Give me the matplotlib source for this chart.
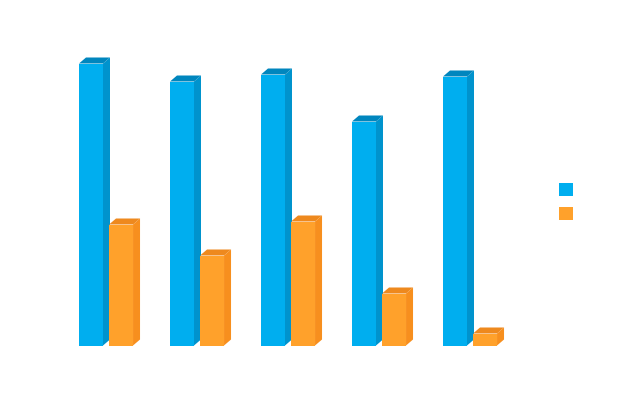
import matplotlib
matplotlib.use("Agg")
import matplotlib.pyplot as plt
from matplotlib.patches import Polygon, Patch

categories = ["A", "B", "C", "D", "E"]
series_names = ["", ""]
blue_values = [282, 264, 271, 224, 269]
orange_values = [121, 90, 124, 52, 12]

# styles
BLUE_FRONT, BLUE_SIDE, BLUE_TOP = "#00AEEF", "#0093CD", "#0086BE"
ORANGE_FRONT, ORANGE_SIDE, ORANGE_TOP = "#FFA12B", "#F78F1E", "#EE891E"
UNIT = 91.0          # pixels per category
BAR_W = 24 / UNIT
DX = 7 / UNIT        # depth in x data units
DY = 6.0             # depth in y data units (pixels)

fig = plt.figure(figsize=(6.36, 3.99), dpi=100)
base_px = 345.5
ax = fig.add_axes([0, (399 - base_px) / 399, 1, base_px / 399])
a = -0.33 - 79 / UNIT
ax.set_xlim(a, a + 636 / UNIT)
ax.set_ylim(0, base_px)
ax.axis("off")


def bars3d(xs, vals, front, side, top):
    ax.bar(xs, vals, width=BAR_W, align="edge", color=front, linewidth=0, zorder=2)
    for x, h in zip(xs, vals):
        r = x + BAR_W
        ax.add_patch(Polygon([(r, 0), (r + DX, DY), (r + DX, h + DY), (r, h)],
                             closed=True, facecolor=side, edgecolor="none", zorder=2))
        ax.add_patch(Polygon([(x, h), (x + DX, h + DY), (r + DX, h + DY), (r, h)],
                             closed=True, facecolor=top, edgecolor="none", zorder=2))


idx = list(range(len(categories)))
bars3d([i - 0.33 for i in idx], blue_values, BLUE_FRONT, BLUE_SIDE, BLUE_TOP)
bars3d([i + 0.0 for i in idx], orange_values, ORANGE_FRONT, ORANGE_SIDE, ORANGE_TOP)

handles = [Patch(facecolor=BLUE_FRONT, edgecolor="none"),
           Patch(facecolor=ORANGE_FRONT, edgecolor="none")]
fig.legend(handles, series_names, loc="upper left",
           bbox_to_anchor=(558 / 636 + 0.0008, 1 - 183 / 399 - 0.001),
           frameon=False, fontsize=10, handlelength=1.008, handleheight=1.008,
           labelspacing=0.72, borderpad=0, borderaxespad=0, handletextpad=0.5)

fig.savefig("out.png", dpi=100)
